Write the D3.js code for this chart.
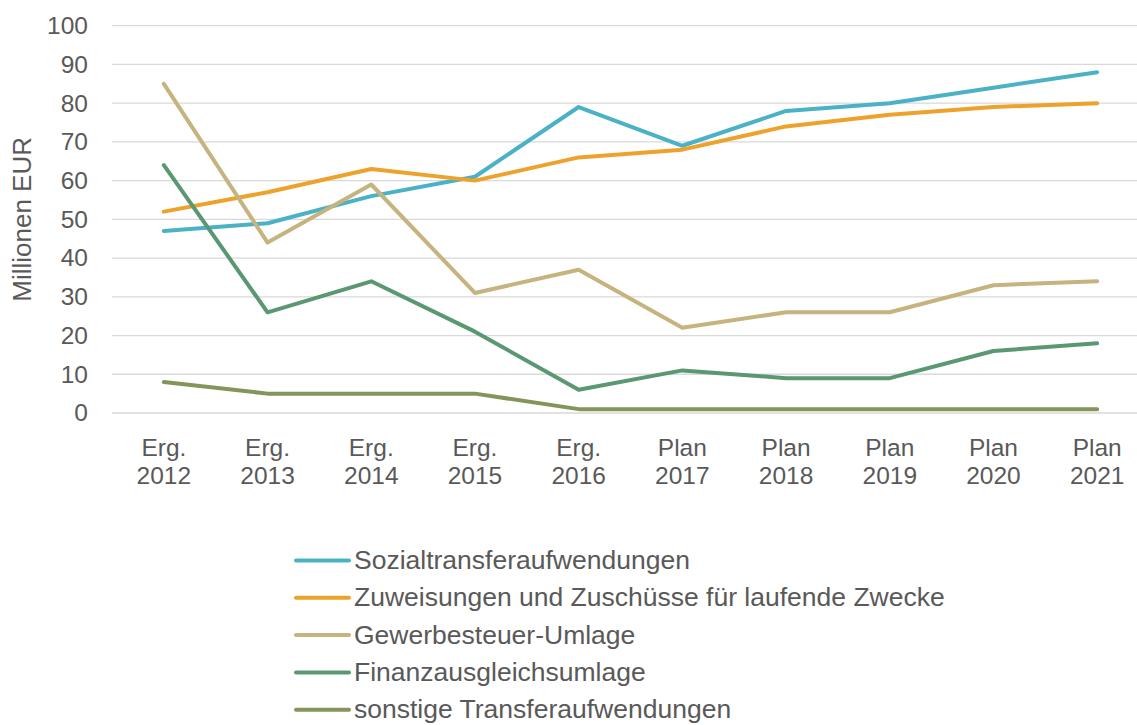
<!DOCTYPE html>
<html>
<head>
<meta charset="utf-8">
<script src="https://cdn.jsdelivr.net/npm/d3@7"></script>
<style>
  body { margin: 0; background: #fff; }
  svg text { font-family: "Liberation Sans", Arial, sans-serif; fill: #595959; }
</style>
</head>
<body>
<div id="chart"></div>
<script>
  const categories = [
    ["Erg.", "2012"], ["Erg.", "2013"], ["Erg.", "2014"], ["Erg.", "2015"], ["Erg.", "2016"],
    ["Plan", "2017"], ["Plan", "2018"], ["Plan", "2019"], ["Plan", "2020"], ["Plan", "2021"]
  ];
  const seriesNames = [
    "Sozialtransferaufwendungen",
    "Zuweisungen und Zuschüsse für laufende Zwecke",
    "Gewerbesteuer-Umlage",
    "Finanzausgleichsumlage",
    "sonstige Transferaufwendungen"
  ];
  const sozial = [47, 49, 56, 61, 79, 69, 78, 80, 84, 88];
  const zuweisungen = [52, 57, 63, 60, 66, 68, 74, 77, 79, 80];
  const gewerbe = [85, 44, 59, 31, 37, 22, 26, 26, 33, 34];
  const finanz = [64, 26, 34, 21, 6, 11, 9, 9, 16, 18];
  const sonstige = [8, 5, 5, 5, 1, 1, 1, 1, 1, 1];
  const yTicks = [0, 10, 20, 30, 40, 50, 60, 70, 80, 90, 100];
  const colors = ["#4bb1c7", "#eda22c", "#c6b37f", "#5a9773", "#84955a"];

  const seriesValues = [sozial, zuweisungen, gewerbe, finanz, sonstige];

  const width = 1137;
  const height = 725;
  const plot = { left: 112, right: 1149, top: 25.7, bottom: 413 };

  const svg = d3.select("#chart")
    .append("svg")
    .attr("width", width)
    .attr("height", height);

  const keys = categories.map(c => c.join(" "));
  const xScale = d3.scaleBand()
    .domain(keys)
    .range([plot.left, plot.right]);
  const xc = k => xScale(k) + xScale.bandwidth() / 2;

  const yScale = d3.scaleLinear()
    .domain([0, 100])
    .range([plot.bottom, plot.top]);

  // grid
  svg.append("g")
    .selectAll("line")
    .data(yTicks)
    .join("line")
    .attr("x1", plot.left)
    .attr("x2", width)
    .attr("y1", d => yScale(d))
    .attr("y2", d => yScale(d))
    .attr("stroke", "#d9d9d9")
    .attr("stroke-width", 1.3);

  // y axis
  const yAxis = d3.axisLeft(yScale).tickValues(yTicks).tickSize(0).tickPadding(0);
  const yAxisGroup = svg.append("g")
    .attr("transform", `translate(88,0)`)
    .call(yAxis);
  yAxisGroup.select(".domain").remove();
  yAxisGroup.selectAll("text")
    .attr("font-size", 24.5)
    .attr("fill", "#595959");

  // x axis
  const xAxis = d3.axisBottom(xScale).tickSize(0).tickFormat("");
  const xAxisGroup = svg.append("g")
    .attr("transform", `translate(0,${plot.bottom})`)
    .call(xAxis);
  xAxisGroup.select(".domain").remove();
  xAxisGroup.selectAll(".tick text").remove();
  xAxisGroup.selectAll(".tick").each(function(k, i) {
    const t = d3.select(this).append("text")
      .attr("text-anchor", "middle")
      .attr("font-size", 24.5)
      .attr("fill", "#595959");
    t.append("tspan").attr("x", 0).attr("y", 43).text(categories[i][0]);
    t.append("tspan").attr("x", 0).attr("y", 71).text(categories[i][1]);
  });

  // y label
  svg.append("text")
    .attr("transform", `translate(31,${(plot.top + plot.bottom) / 2}) rotate(-90)`)
    .attr("text-anchor", "middle")
    .attr("font-size", 26)
    .text("Millionen EUR");

  // lines
  const line = d3.line()
    .x((d, i) => xc(keys[i]))
    .y(d => yScale(d));

  svg.append("g")
    .selectAll("path")
    .data(seriesValues)
    .join("path")
    .attr("d", d => line(d))
    .attr("fill", "none")
    .attr("stroke", (d, i) => colors[i])
    .attr("stroke-width", 4)
    .attr("stroke-linecap", "round")
    .attr("stroke-linejoin", "round");

  // legend
  const legend = svg.append("g")
    .attr("transform", "translate(296,560.5)");
  const rows = legend.selectAll("g")
    .data(seriesNames)
    .join("g")
    .attr("transform", (d, i) => `translate(0,${i * 37.3})`);
  rows.append("line")
    .attr("x1", 0)
    .attr("x2", 53)
    .attr("stroke", (d, i) => colors[i])
    .attr("stroke-width", 4)
    .attr("stroke-linecap", "round");
  rows.append("text")
    .attr("x", 58)
    .attr("y", 8.5)
    .attr("font-size", 26.5)
    .text(d => d);
</script>
</body>
</html>
